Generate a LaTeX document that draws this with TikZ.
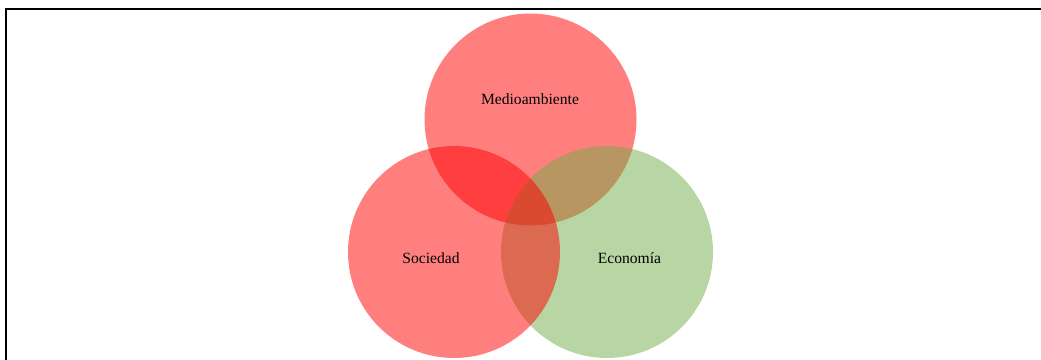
\documentclass[tikz,border=0pt]{standalone}
\usepackage{fontspec}
\setmainfont{Liberation Serif}
\definecolor{verde}{HTML}{70AD47}
\tikzset{
  conjunto/.style={circle, inner sep=0pt, minimum size=159pt, fill opacity=0.5},
  etiqueta/.style={font=\fontsize{11.7}{14}\selectfont, text=black}
}
\begin{document}
\begin{tikzpicture}[x=0.75pt, y=-0.75pt]
            \useasboundingbox (0,0) rectangle (1041,360);
            \clip (0,0) rectangle (1041,360);

            % Frame
            \draw[line width=1.5pt] (6,9) rectangle (1060,380);

            % Circles (order sets the overlap colours)
            \node[conjunto, fill=red] (medio) at (530.5,119.5) {};
            \node[conjunto, fill=verde] (eco) at (607,252) {};
            \node[conjunto, fill=red] (soc) at (454,252) {};

            % Labels
            \node[etiqueta] (tmedio) at (530,99) {Medioambiente};
            \node[etiqueta] (tsoc) at (431,258) {Sociedad};
            \node[etiqueta] (teco) at (629.5,258) {Economía};
\end{tikzpicture}
\end{document}
